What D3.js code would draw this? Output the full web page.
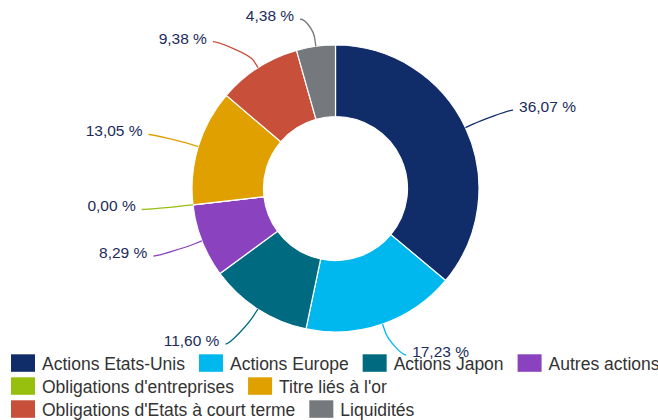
<!DOCTYPE html>
<html>
<head>
<meta charset="utf-8">
<script src="https://cdn.jsdelivr.net/npm/d3@7"></script>
<style>
  html, body { margin: 0; padding: 0; background: #fff; }
  svg { display: block; font-family: "Liberation Sans", Arial, Helvetica, sans-serif; }
</style>
</head>
<body>
<div id="chart"></div>
<script>
// Répartition par classe d'actifs, sens horaire à partir du haut
const categories = [
  'Actions Etats-Unis', 'Actions Europe', 'Actions Japon', 'Autres actions',
  "Obligations d'entreprises", "Titre liés à l'or",
  "Obligations d'Etats à court terme", 'Liquidités'
];
const values = [36.07, 17.23, 11.60, 8.29, 0.00, 13.05, 9.38, 4.38];
const colors = ['#102d69', '#00b8ee', '#006b80', '#8a42bf', '#97bf0d', '#e0a000', '#c8503b', '#75787c'];

(function(){
  const width = 658, height = 420;
  const cx = 335.5, cy = 188.5;        // centre du donut
  const rOuter = 143.5, rInner = 72;
  const labelR = 185;                  // rayon "naturel" des étiquettes
  const labelTop = 19, labelBottom = 355, labelGap = 22.7;

  const svg = d3.select('#chart').append('svg')
    .attr('width', width).attr('height', height);

  const data = categories.map((c, i) => ({name: c, value: values[i], color: colors[i]}));

  const pie = d3.pie().value(d => d.value).sort(null);
  const arcs = pie(data);
  const arc = d3.arc().innerRadius(rInner).outerRadius(rOuter);

  const g = svg.append('g').attr('transform', `translate(${cx},${cy})`);

  g.selectAll('path.slice')
    .data(arcs)
    .join('path')
    .attr('class', 'slice')
    .attr('d', arc)
    .attr('fill', d => d.data.color)
    .attr('stroke', '#fff')
    .attr('stroke-width', 1.2);

  // --- positions des étiquettes (à la Highcharts) ---
  const fmt = d3.format('.2f');
  const labels = arcs.map(a => {
    const ang = (a.startAngle + a.endAngle) / 2;
    return {
      a, ang,
      right: ang < Math.PI,
      naturalY: cy - labelR * Math.cos(ang),
      text: fmt(a.data.value).replace('.', ',') + ' %'
    };
  });

  [true, false].forEach(side => {
    const list = labels.filter(l => l.right === side).sort((p, q) => p.naturalY - q.naturalY);
    list.forEach(l => { l.y = Math.max(labelTop, Math.min(labelBottom, l.naturalY)); l.clamped = l.y !== l.naturalY; });
    for (let i = 1; i < list.length; i++) {
      if (list[i].y < list[i - 1].y + labelGap) list[i].y = list[i - 1].y + labelGap;
    }
    for (let i = list.length - 1; i >= 0; i--) {
      const limit = i === list.length - 1 ? labelBottom : list[i + 1].y - labelGap;
      if (list[i].y > limit) list[i].y = limit;
    }
  });

  labels.forEach(l => {
    const yForX = l.clamped ? l.naturalY : l.y;
    const dy = Math.max(-labelR, Math.min(labelR, yForX - cy));
    const dx = Math.sqrt(labelR * labelR - dy * dy) + 10;
    const sgn = l.right ? 1 : -1;
    l.ex = cx + sgn * dx;           // bout du connecteur côté étiquette
    const sin = Math.sin(l.ang), cos = Math.cos(l.ang);
    const tx = cx + rOuter * sin, ty = cy - rOuter * cos;
    const br = rOuter + 8.3;
    const bx = cx + br * sin, by = cy - br * cos;
    const p = d3.path();
    p.moveTo(l.ex, l.y);
    p.bezierCurveTo(l.ex - sgn * 5, l.y, 2 * bx - tx, 2 * by - ty, bx, by);
    p.lineTo(tx, ty);
    l.path = p.toString();
    l.tx = l.ex + sgn * 6;
  });

  svg.append('g').selectAll('path')
    .data(labels)
    .join('path')
    .attr('d', d => d.path)
    .attr('fill', 'none')
    .attr('stroke', d => d.a.data.color)
    .attr('stroke-width', 1.3);

  svg.append('g').selectAll('text')
    .data(labels)
    .join('text')
    .attr('x', d => d.tx)
    .attr('y', d => d.y + 2)
    .attr('text-anchor', d => d.right ? 'start' : 'end')
    .attr('font-size', '15.5px')
    .attr('fill', '#1c2b5a')
    .text(d => d.text);

  // --- légende en flux, alignée à gauche ---
  const legend = svg.append('g');
  const symW = 24, symH = 17.5, rowH = 23, startX = 11, startY = 354.3, maxX = 676;
  let x = startX, y = startY;
  data.forEach(d => {
    const item = legend.append('g');
    const t = item.append('text')
      .attr('font-size', '17.5px')
      .attr('fill', '#333')
      .attr('x', symW + 7)
      .attr('y', 16)
      .text(d.name);
    const w = symW + 7 + t.node().getComputedTextLength();
    if (x + w > maxX && x > startX) { x = startX; y += rowH; }
    item.append('rect')
      .attr('width', symW).attr('height', symH)
      .attr('fill', d.color);
    item.attr('transform', `translate(${x},${y})`);
    x += w + 14;
  });
})();
</script>
</body>
</html>
